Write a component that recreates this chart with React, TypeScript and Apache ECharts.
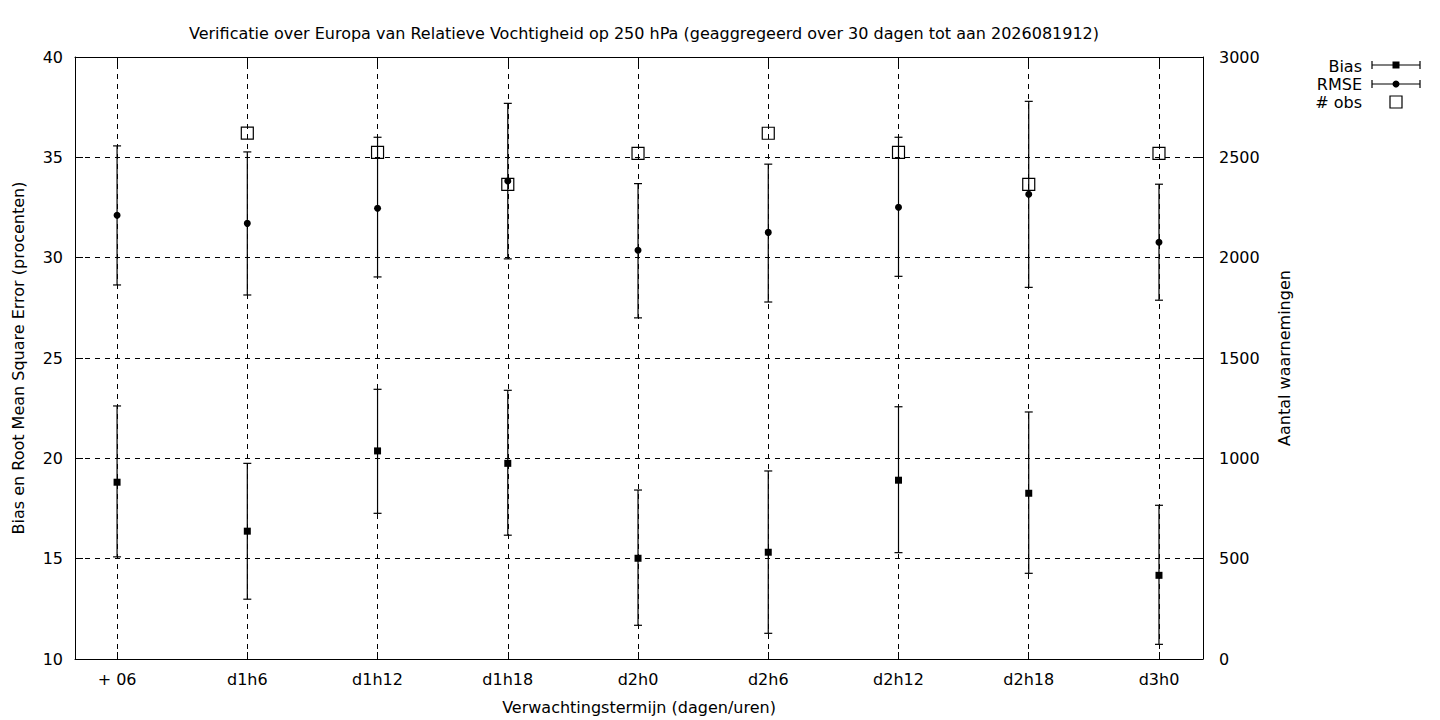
import React, { useEffect, useRef } from "react";
import * as echarts from "echarts";

const categories = ["+ 06", "d1h6", "d1h12", "d1h18", "d2h0", "d2h6", "d2h12", "d2h18", "d3h0"];
const biasValues = [18.81, 16.37, 20.37, 19.75, 15.02, 15.32, 18.91, 18.26, 14.17];
const biasLow = [15.09, 12.98, 17.26, 16.17, 11.68, 11.28, 15.3, 14.27, 10.73];
const biasHigh = [22.61, 19.75, 23.44, 23.39, 18.42, 19.37, 22.57, 22.31, 17.66];
const rmseValues = [32.11, 31.71, 32.46, 33.82, 30.37, 31.26, 32.51, 33.16, 30.77];
const rmseLow = [28.64, 28.14, 29.04, 29.94, 27.0, 27.79, 29.07, 28.52, 27.88];
const rmseHigh = [35.57, 35.27, 36.0, 37.69, 33.69, 34.66, 36.0, 37.79, 33.66];
const obsCounts: (number | null)[] = [null, 2621, 2525, 2365, 2520, 2620, 2525, 2365, 2520];
const leftTicks = [10, 15, 20, 25, 30, 35, 40];
const rightTicks = [0, 500, 1000, 1500, 2000, 2500, 3000];

const FONT = "DejaVu Sans";
const FS = 16;

function errorBarItem(params: any, api: any) {
  const x = api.value(0);
  const lo = api.coord([x, api.value(1)]);
  const hi = api.coord([x, api.value(2)]);
  const cap = 4;
  const style = { stroke: "#000", lineWidth: 1.2 };
  return {
    type: "group",
    children: [
      { type: "line", shape: { x1: lo[0], y1: lo[1], x2: hi[0], y2: hi[1] }, style },
      { type: "line", shape: { x1: lo[0] - cap, y1: lo[1], x2: lo[0] + cap, y2: lo[1] }, style },
      { type: "line", shape: { x1: hi[0] - cap, y1: hi[1], x2: hi[0] + cap, y2: hi[1] }, style },
    ],
  };
}

export default function App() {
  const ref = useRef<HTMLDivElement>(null);
  useEffect(() => {
    if (!ref.current) return;
    const chart = echarts.init(ref.current, undefined, { renderer: "svg" });
    const idx = categories.map((_, i) => i);
    const dashed = { color: "#000", width: 1, type: [5, 5] as any };
    const legendX0 = 1372;
    const legendX1 = 1420;
    const legendMid = 1396;
    const legendLine = (y: number) => [
      { type: "line", shape: { x1: legendX0, y1: y, x2: legendX1, y2: y }, style: { stroke: "#000", lineWidth: 1.2 } },
      { type: "line", shape: { x1: legendX0, y1: y - 4, x2: legendX0, y2: y + 4 }, style: { stroke: "#000", lineWidth: 1.2 } },
      { type: "line", shape: { x1: legendX1, y1: y - 4, x2: legendX1, y2: y + 4 }, style: { stroke: "#000", lineWidth: 1.2 } },
    ];
    const legendText = (txt: string, y: number) => ({
      type: "text",
      x: 1362,
      y,
      style: { text: txt, fill: "#000", font: `${FS}px "${FONT}"`, align: "right", verticalAlign: "middle" },
    });
    chart.setOption({
      animation: false,
      backgroundColor: "#fff",
      textStyle: { fontFamily: FONT, color: "#000" },
      title: {
        text: "Verificatie over Europa van Relatieve Vochtigheid op 250 hPa (geaggregeerd over 30 dagen tot aan 2026081912)",
        left: 639,
        textAlign: "center",
        top: 20,
        textStyle: { fontFamily: FONT, fontSize: FS, fontWeight: "normal", color: "#000" },
      },
      grid: { left: 75, right: 237, top: 57, bottom: 61, containLabel: false },
      xAxis: [
        {
          type: "value",
          min: -0.323,
          max: 8.338,
          position: "bottom",
          name: "Verwachtingstermijn (dagen/uren)",
          nameLocation: "middle",
          nameGap: 40,
          nameTextStyle: { fontFamily: FONT, fontSize: FS, color: "#000" },
          axisLine: { show: true, onZero: false, lineStyle: { color: "#000", width: 1 } },
          axisTick: { show: true, inside: true, length: 7, customValues: idx, lineStyle: { color: "#000" } },
          axisLabel: {
            show: true,
            customValues: idx,
            margin: 12,
            fontFamily: FONT,
            fontSize: FS,
            color: "#000",
            formatter: (v: number) => categories[Math.round(v)] ?? "",
          },
          splitLine: { show: false },
        },
        {
          type: "value",
          min: -0.323,
          max: 8.338,
          position: "top",
          axisLine: { show: true, onZero: false, lineStyle: { color: "#000", width: 1 } },
          axisTick: { show: true, inside: true, length: 7, customValues: idx, lineStyle: { color: "#000" } },
          axisLabel: { show: false },
          splitLine: { show: false },
        },
      ],
      yAxis: [
        {
          type: "value",
          min: 10,
          max: 40,
          interval: 5,
          position: "left",
          name: "Bias en Root Mean Square Error (procenten)",
          nameLocation: "middle",
          nameRotate: 90,
          nameGap: 49,
          nameTextStyle: { fontFamily: FONT, fontSize: FS, color: "#000" },
          axisLine: { show: true, onZero: false, lineStyle: { color: "#000", width: 1 } },
          axisTick: { show: true, inside: true, length: 8, lineStyle: { color: "#000" } },
          axisLabel: {
            margin: 12,
            fontFamily: FONT,
            fontSize: FS,
            color: "#000",
            customValues: leftTicks,
            formatter: (v: number) => String(v),
          },
          splitLine: { show: true, lineStyle: dashed },
        },
        {
          type: "value",
          min: 0,
          max: 3000,
          interval: 500,
          position: "right",
          name: "Aantal waarnemingen",
          nameLocation: "middle",
          nameRotate: 90,
          nameGap: 73,
          nameTextStyle: { fontFamily: FONT, fontSize: FS, color: "#000" },
          axisLine: { show: true, onZero: false, lineStyle: { color: "#000", width: 1 } },
          axisTick: { show: true, inside: true, length: 10, lineStyle: { color: "#000" } },
          axisLabel: {
            margin: 16,
            fontFamily: FONT,
            fontSize: FS,
            color: "#000",
            customValues: rightTicks,
            formatter: (v: number) => String(v),
          },
          splitLine: { show: false },
        },
      ],
      series: [
        {
          name: "gridx",
          type: "line",
          data: [],
          silent: true,
          markLine: {
            silent: true,
            symbol: ["none", "none"],
            label: { show: false },
            lineStyle: dashed,
            emphasis: { disabled: true },
            data: idx.map((i) => ({ xAxis: i })),
          },
        },
        {
          name: "RMSE bars",
          type: "custom",
          renderItem: errorBarItem,
          data: idx.map((i) => [i, rmseLow[i], rmseHigh[i]]),
          encode: { x: 0, y: [1, 2] },
          silent: true,
          z: 3,
        },
        {
          name: "Bias bars",
          type: "custom",
          renderItem: errorBarItem,
          data: idx.map((i) => [i, biasLow[i], biasHigh[i]]),
          encode: { x: 0, y: [1, 2] },
          silent: true,
          z: 3,
        },
        {
          name: "# obs",
          type: "scatter",
          yAxisIndex: 1,
          symbol: "rect",
          symbolSize: 12,
          data: idx.filter((i) => obsCounts[i] != null).map((i) => [i, obsCounts[i]]),
          itemStyle: { color: "rgba(0,0,0,0)", borderColor: "#000", borderWidth: 1.2, opacity: 1 },
          z: 4,
        },
        {
          name: "RMSE",
          type: "scatter",
          symbol: "circle",
          symbolSize: 7,
          data: idx.map((i) => [i, rmseValues[i]]),
          itemStyle: { color: "#000", opacity: 1 },
          z: 5,
        },
        {
          name: "Bias",
          type: "scatter",
          symbol: "rect",
          symbolSize: 7,
          data: idx.map((i) => [i, biasValues[i]]),
          itemStyle: { color: "#000", opacity: 1 },
          z: 5,
        },
      ],
      graphic: [
        legendText("Bias", 66),
        ...legendLine(65),
        { type: "rect", shape: { x: legendMid - 3.5, y: 65 - 3.5, width: 7, height: 7 }, style: { fill: "#000" } },
        legendText("RMSE", 84),
        ...legendLine(84),
        { type: "circle", shape: { cx: legendMid, cy: 84, r: 3.5 }, style: { fill: "#000" } },
        legendText("# obs", 102),
        { type: "rect", shape: { x: legendMid - 6, y: 102 - 6, width: 12, height: 12 }, style: { fill: "none", stroke: "#000", lineWidth: 1.2 } },
      ],
    });
    return () => chart.dispose();
  }, []);
  return (
    <div
      ref={ref}
      style={{ position: "fixed", left: 0, top: 0, width: 1440, height: 720, background: "#fff" }}
    />
  );
}
